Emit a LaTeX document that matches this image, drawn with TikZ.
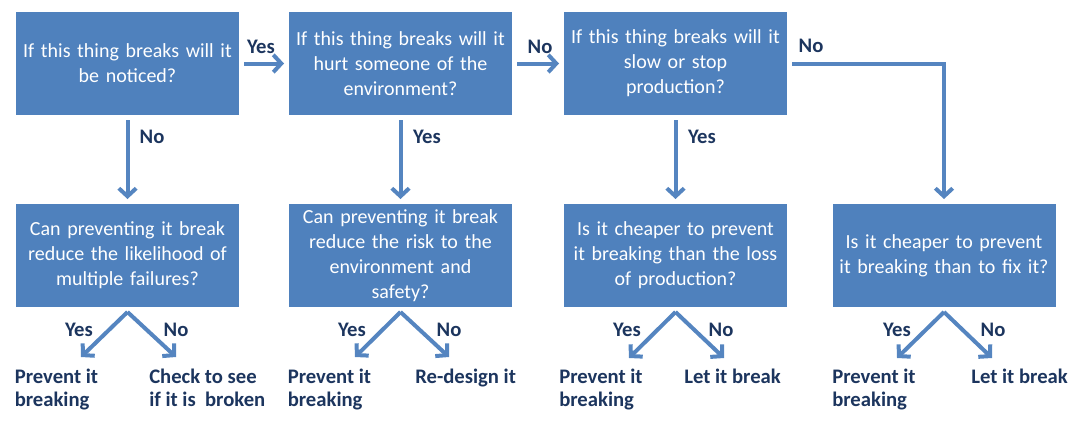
\documentclass[tikz,border=0pt]{standalone}
\usepackage{fontspec}
\setmainfont{Carlito}
\usetikzlibrary{arrows.meta,shadows}
\definecolor{boxblue}{HTML}{4F81BD}
\definecolor{linkblue}{HTML}{5585C0}
\definecolor{labelnavy}{HTML}{1C355E}
\begin{document}
\begin{tikzpicture}[x=0.75pt,y=-0.75pt,
  question/.style={rectangle, fill=boxblue, draw=white, line width=3.75pt,
    minimum width=171pt, minimum height=81pt, inner sep=2pt, text width=160pt,
    align=center, text=white, font=\fontsize{15}{18.75}\selectfont,
    drop shadow={fill=black, opacity=0.3, shadow xshift=1pt, shadow yshift=-1.5pt}},
  answer/.style={text=labelnavy, font=\bfseries\fontsize{15.5}{18}\selectfont},
  outcome/.style={text=labelnavy, font=\bfseries\fontsize{15.5}{17.25}\selectfont,
    align=left, anchor=base west, inner sep=0pt},
  flow/.style={draw=linkblue, line width=3pt, -{Straight Barb[length=6pt,width=13pt]}}]
\useasboundingbox (0,0) rectangle (1079,421);

\node[question] (q1) at (127.5,63.5) {If this thing breaks will it\\be noticed?};
\node[question] (q2) at (400.5,63.5) {If this thing breaks will it\\hurt someone of the\\environment?};
\node[question] (q3) at (675.5,63.5) {If this thing breaks will it\\slow or stop\\production?};
\node[question] (c1) at (127.5,255.5) {Can preventing it break\\reduce the likelihood of\\multiple failures?};
\node[question] (c2) at (400.5,255.5) {Can preventing it break\\reduce the risk to the\\environment and\\safety?};
\node[question] (c3) at (675.5,255.5) {Is it cheaper to prevent\\it breaking than the loss\\of production?};
\node[question] (c4) at (944,255.5) {Is it cheaper to prevent\\it breaking than to fix it?};

\draw[flow] (q1) -- (q2);
\draw[flow] (q2) -- (q3);
\draw[flow] (q3) -| (c4);
\draw[flow] (q1) -- (c1);
\draw[flow] (q2) -- (c2);
\draw[flow] (q3) -- (c3);

\node[answer] (a12) at (261,47) {Yes};
\node[answer] (a23) at (540,47) {No};
\node[answer] (a34) at (811,46) {No};
\node[answer] (a1) at (152,137) {No};
\node[answer] (a2) at (427,137) {Yes};
\node[answer] (a3) at (702,137) {Yes};

\coordinate (y1) at (81,357);
\coordinate (n1) at (176,357);
\coordinate (y2) at (355,357);
\coordinate (n2) at (449,357);
\coordinate (y3) at (629,358);
\coordinate (n3) at (724,358);
\coordinate (y4) at (897,358);
\coordinate (n4) at (992,358);
\draw[flow] (c1.south) -- (y1);
\draw[flow] (c1.south) -- (n1);
\draw[flow] (c2.south) -- (y2);
\draw[flow] (c2.south) -- (n2);
\draw[flow] (c3.south) -- (y3);
\draw[flow] (c3.south) -- (n3);
\draw[flow] (c4.south) -- (y4);
\draw[flow] (c4.south) -- (n4);

\node[answer] (b1y) at (79,330) {Yes};
\node[answer] (b1n) at (176,330) {No};
\node[answer] (b2y) at (352,330) {Yes};
\node[answer] (b2n) at (449,330) {No};
\node[answer] (b3y) at (627,330) {Yes};
\node[answer] (b3n) at (721,330) {No};
\node[answer] (b4y) at (897,330) {Yes};
\node[answer] (b4n) at (993,330) {No};

\node[outcome] (o1y) at (14.5,406) {Prevent it\\breaking};
\node[outcome] (o1n) at (149,406) {Check to see\\if it is\ \ broken};
\node[outcome] (o2y) at (287.5,406) {Prevent it\\breaking};
\node[outcome] (o2n) at (415,383) {Re-design it};
\node[outcome] (o3y) at (559,406) {Prevent it\\breaking};
\node[outcome] (o3n) at (684,383) {Let it break};
\node[outcome] (o4y) at (832,406) {Prevent it\\breaking};
\node[outcome] (o4n) at (971,383) {Let it break};
\end{tikzpicture}
\end{document}
